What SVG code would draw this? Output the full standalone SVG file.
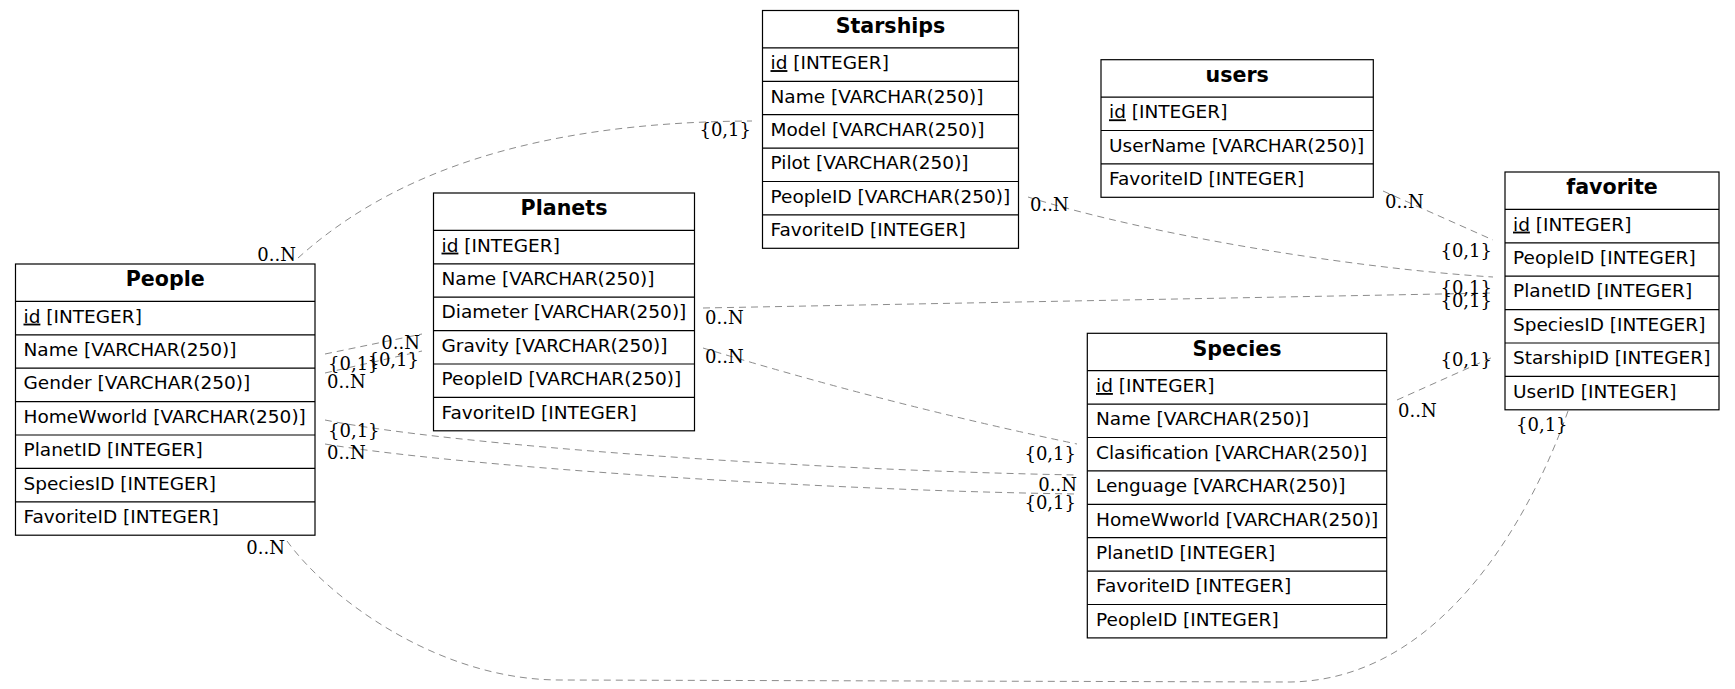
<svg xmlns="http://www.w3.org/2000/svg" width="1735" height="689" viewBox="0 0 1735 689">
<style>
.tbl{fill:#fff;stroke:#000;stroke-width:1.2}
.sep{stroke:#000;stroke-width:1.2}
.hdr{font-family:"DejaVu Sans",sans-serif;font-weight:bold;font-size:20.6px;text-anchor:middle;fill:#000}
.row{font-family:"DejaVu Sans",sans-serif;font-size:18.5px;fill:#000}
.edge{fill:none;stroke:#8c8c8c;stroke-width:1;stroke-dasharray:7,5}
.lbl{font-family:"DejaVu Serif",serif;font-size:18px;fill:#000}
.e{text-anchor:end}
</style>
<rect width="1735" height="689" fill="#fff"/>
<g id="connectors">
<path class="edge" d="M298,258 C390,175 530,122 752,121"/>
<path class="edge" d="M1028,197 C1150,235 1350,268 1493,277"/>
<path class="edge" d="M1383,191 L1493,240"/>
<path class="edge" d="M703,308 L1493,293"/>
<path class="edge" d="M703,348 Q890,405 1077,444"/>
<path class="edge" d="M1397,400 L1493,357"/>
<path class="edge" d="M287,541 C330,600 440,680 560,680 L1290,682 C1440,680 1530,520 1568,411"/>
<path class="edge" d="M325,354 L422,334"/>
<path class="edge" d="M325,373 L422,351"/>
<path class="edge" d="M325,420 C450,445 800,470 1077,475"/>
<path class="edge" d="M325,444 C450,465 800,490 1077,494"/>
<text class="lbl e" x="296" y="261">0..N</text>
<text class="lbl e" x="751" y="136">{0,1}</text>
<text class="lbl" x="1030" y="211">0..N</text>
<text class="lbl e" x="1492" y="257">{0,1}</text>
<text class="lbl" x="1385" y="208">0..N</text>
<text class="lbl e" x="1492" y="294">{0,1}</text>
<text class="lbl e" x="1492" y="306.5">{0,1}</text>
<text class="lbl" x="705" y="324">0..N</text>
<text class="lbl" x="705" y="362.5">0..N</text>
<text class="lbl e" x="1492" y="366">{0,1}</text>
<text class="lbl" x="1398" y="417">0..N</text>
<text class="lbl" x="1516" y="431">{0,1}</text>
<text class="lbl e" x="285" y="554">0..N</text>
<text class="lbl e" x="420" y="349">0..N</text>
<text class="lbl e" x="419" y="366">{0,1}</text>
<text class="lbl" x="328" y="369.5">{0,1}</text>
<text class="lbl" x="327" y="387.5">0..N</text>
<text class="lbl" x="328" y="437">{0,1}</text>
<text class="lbl" x="327" y="459">0..N</text>
<text class="lbl e" x="1076" y="460">{0,1}</text>
<text class="lbl e" x="1077" y="491">0..N</text>
<text class="lbl e" x="1076" y="509">{0,1}</text>
</g>
<g id="People">
<rect class="tbl" x="15.5" y="264" width="299.5" height="271.2"/>
<line class="sep" x1="15.5" y1="301.4" x2="315" y2="301.4"/>
<line class="sep" x1="15.5" y1="334.8" x2="315" y2="334.8"/>
<line class="sep" x1="15.5" y1="368.2" x2="315" y2="368.2"/>
<line class="sep" x1="15.5" y1="401.6" x2="315" y2="401.6"/>
<line class="sep" x1="15.5" y1="435" x2="315" y2="435"/>
<line class="sep" x1="15.5" y1="468.4" x2="315" y2="468.4"/>
<line class="sep" x1="15.5" y1="501.8" x2="315" y2="501.8"/>
<text class="hdr" x="165.2" y="286">People</text>
<text class="row" x="23.5" y="322.6"><tspan text-decoration="underline">id</tspan> [INTEGER]</text>
<text class="row" x="23.5" y="356">Name [VARCHAR(250)]</text>
<text class="row" x="23.5" y="389.4">Gender [VARCHAR(250)]</text>
<text class="row" x="23.5" y="422.8">HomeWworld [VARCHAR(250)]</text>
<text class="row" x="23.5" y="456.2">PlanetID [INTEGER]</text>
<text class="row" x="23.5" y="489.6">SpeciesID [INTEGER]</text>
<text class="row" x="23.5" y="523">FavoriteID [INTEGER]</text>
</g>
<g id="Planets">
<rect class="tbl" x="433.5" y="193" width="261" height="237.8"/>
<line class="sep" x1="433.5" y1="230.4" x2="694.5" y2="230.4"/>
<line class="sep" x1="433.5" y1="263.8" x2="694.5" y2="263.8"/>
<line class="sep" x1="433.5" y1="297.2" x2="694.5" y2="297.2"/>
<line class="sep" x1="433.5" y1="330.6" x2="694.5" y2="330.6"/>
<line class="sep" x1="433.5" y1="364" x2="694.5" y2="364"/>
<line class="sep" x1="433.5" y1="397.4" x2="694.5" y2="397.4"/>
<text class="hdr" x="564" y="215">Planets</text>
<text class="row" x="441.5" y="251.6"><tspan text-decoration="underline">id</tspan> [INTEGER]</text>
<text class="row" x="441.5" y="285">Name [VARCHAR(250)]</text>
<text class="row" x="441.5" y="318.4">Diameter [VARCHAR(250)]</text>
<text class="row" x="441.5" y="351.8">Gravity [VARCHAR(250)]</text>
<text class="row" x="441.5" y="385.2">PeopleID [VARCHAR(250)]</text>
<text class="row" x="441.5" y="418.6">FavoriteID [INTEGER]</text>
</g>
<g id="Starships">
<rect class="tbl" x="762.5" y="10.5" width="256" height="237.8"/>
<line class="sep" x1="762.5" y1="47.9" x2="1018.5" y2="47.9"/>
<line class="sep" x1="762.5" y1="81.3" x2="1018.5" y2="81.3"/>
<line class="sep" x1="762.5" y1="114.7" x2="1018.5" y2="114.7"/>
<line class="sep" x1="762.5" y1="148.1" x2="1018.5" y2="148.1"/>
<line class="sep" x1="762.5" y1="181.5" x2="1018.5" y2="181.5"/>
<line class="sep" x1="762.5" y1="214.9" x2="1018.5" y2="214.9"/>
<text class="hdr" x="890.5" y="32.5">Starships</text>
<text class="row" x="770.5" y="69.1"><tspan text-decoration="underline">id</tspan> [INTEGER]</text>
<text class="row" x="770.5" y="102.5">Name [VARCHAR(250)]</text>
<text class="row" x="770.5" y="135.9">Model [VARCHAR(250)]</text>
<text class="row" x="770.5" y="169.3">Pilot [VARCHAR(250)]</text>
<text class="row" x="770.5" y="202.7">PeopleID [VARCHAR(250)]</text>
<text class="row" x="770.5" y="236.1">FavoriteID [INTEGER]</text>
</g>
<g id="users">
<rect class="tbl" x="1101" y="59.7" width="272.3" height="137.6"/>
<line class="sep" x1="1101" y1="97.1" x2="1373.3" y2="97.1"/>
<line class="sep" x1="1101" y1="130.5" x2="1373.3" y2="130.5"/>
<line class="sep" x1="1101" y1="163.9" x2="1373.3" y2="163.9"/>
<text class="hdr" x="1237.2" y="81.7">users</text>
<text class="row" x="1109" y="118.3"><tspan text-decoration="underline">id</tspan> [INTEGER]</text>
<text class="row" x="1109" y="151.7">UserName [VARCHAR(250)]</text>
<text class="row" x="1109" y="185.1">FavoriteID [INTEGER]</text>
</g>
<g id="favorite">
<rect class="tbl" x="1505" y="172" width="214" height="237.8"/>
<line class="sep" x1="1505" y1="209.4" x2="1719" y2="209.4"/>
<line class="sep" x1="1505" y1="242.8" x2="1719" y2="242.8"/>
<line class="sep" x1="1505" y1="276.2" x2="1719" y2="276.2"/>
<line class="sep" x1="1505" y1="309.6" x2="1719" y2="309.6"/>
<line class="sep" x1="1505" y1="343" x2="1719" y2="343"/>
<line class="sep" x1="1505" y1="376.4" x2="1719" y2="376.4"/>
<text class="hdr" x="1612" y="194">favorite</text>
<text class="row" x="1513" y="230.6"><tspan text-decoration="underline">id</tspan> [INTEGER]</text>
<text class="row" x="1513" y="264">PeopleID [INTEGER]</text>
<text class="row" x="1513" y="297.4">PlanetID [INTEGER]</text>
<text class="row" x="1513" y="330.8">SpeciesID [INTEGER]</text>
<text class="row" x="1513" y="364.2">StarshipID [INTEGER]</text>
<text class="row" x="1513" y="397.6">UserID [INTEGER]</text>
</g>
<g id="Species">
<rect class="tbl" x="1087.3" y="333.3" width="299.4" height="304.6"/>
<line class="sep" x1="1087.3" y1="370.7" x2="1386.7" y2="370.7"/>
<line class="sep" x1="1087.3" y1="404.1" x2="1386.7" y2="404.1"/>
<line class="sep" x1="1087.3" y1="437.5" x2="1386.7" y2="437.5"/>
<line class="sep" x1="1087.3" y1="470.9" x2="1386.7" y2="470.9"/>
<line class="sep" x1="1087.3" y1="504.3" x2="1386.7" y2="504.3"/>
<line class="sep" x1="1087.3" y1="537.7" x2="1386.7" y2="537.7"/>
<line class="sep" x1="1087.3" y1="571.1" x2="1386.7" y2="571.1"/>
<line class="sep" x1="1087.3" y1="604.5" x2="1386.7" y2="604.5"/>
<text class="hdr" x="1237" y="355.5">Species</text>
<text class="row" x="1096" y="392"><tspan text-decoration="underline">id</tspan> [INTEGER]</text>
<text class="row" x="1096" y="425.4">Name [VARCHAR(250)]</text>
<text class="row" x="1096" y="458.8">Clasification [VARCHAR(250)]</text>
<text class="row" x="1096" y="492.2">Lenguage [VARCHAR(250)]</text>
<text class="row" x="1096" y="525.6">HomeWworld [VARCHAR(250)]</text>
<text class="row" x="1096" y="559">PlanetID [INTEGER]</text>
<text class="row" x="1096" y="592.4">FavoriteID [INTEGER]</text>
<text class="row" x="1096" y="625.8">PeopleID [INTEGER]</text>
</g>
</svg>
